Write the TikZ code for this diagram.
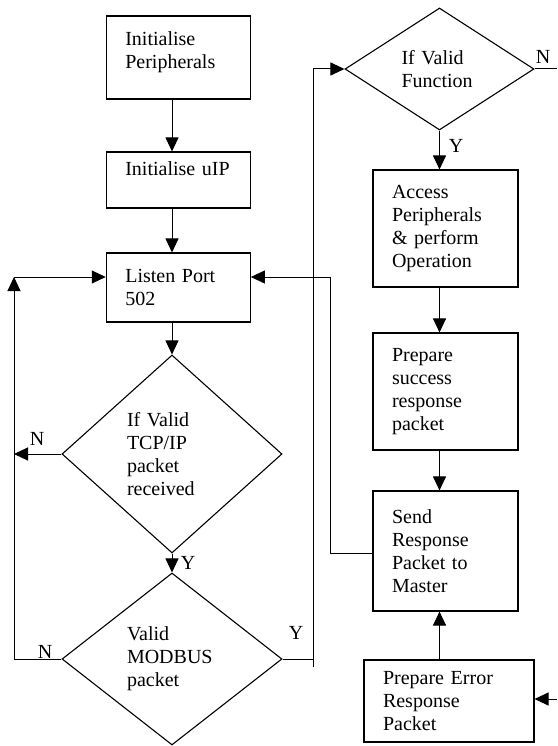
\documentclass[tikz,border=0pt]{standalone}
\usepackage{fontspec}
\setmainfont{Liberation Serif}
\usetikzlibrary{arrows.meta,shapes.geometric}
\begin{document}
\begin{tikzpicture}[x=1pt,y=-1pt,
  every node/.style={font=\fontsize{20}{23}\selectfont},
  box/.style={draw, line width=1.1pt, rectangle, align=left, inner xsep=19pt, inner ysep=0pt, text width=106pt},
  dia/.style={draw, line width=1.1pt, diamond, align=left, inner sep=0pt},
  arr/.style={line width=1pt, -{Triangle[length=14pt,width=13pt]}},
  ln/.style={line width=1pt},
  lab/.style={inner sep=0pt}]
\useasboundingbox (0,0) rectangle (557,746);
% left column
\node[box, minimum height=83pt, text depth=37pt] (p1) at (178.3,57.5) {Initialise\\Peripherals};
\node[box, minimum height=56pt, text depth=22pt] (p2) at (178.3,180) {Initialise uIP};
\node[box, minimum height=69pt] (p3) at (178.3,287.5) {Listen Port\\502};
\node[dia, text width=90pt, minimum width=220pt, minimum height=198pt] (d1) at (172,454) {If Valid\\TCP/IP\\packet\\received};
\node[dia, text width=90pt, minimum width=220pt, minimum height=172pt] (d2) at (172,659) {Valid\\MODBUS\\packet};
% right column
\node[dia, text width=76pt, minimum width=189pt, minimum height=122pt] (d3) at (439.5,69) {If Valid\\Function};
\node[box, text width=107pt, minimum height=117pt] (a1) at (445.5,228.5) {Access\\Peripherals\\\& perform\\Operation};
\node[box, text width=107pt, minimum height=117pt] (ps) at (445.5,391.5) {Prepare\\success\\response\\packet};
\node[box, text width=107pt, minimum height=120pt] (sd) at (445.5,551) {Send\\Response\\Packet to\\Master};
\node[box, text width=132pt, minimum height=82pt] (er) at (449,701) {Prepare Error\\Response\\Packet};
% coordinates
\coordinate (cL1) at (14,454);
\coordinate (cL2) at (14,659);
\coordinate (cLt) at (14,277);
\coordinate (cR1) at (313,659);
\coordinate (cR0) at (313,667);
\coordinate (cR2) at (313,69);
\coordinate (cM1) at (330,553);
\coordinate (cM2) at (330,277);
\coordinate (cE1) at (557,69);
\coordinate (cE2) at (557,699);
% connectors
\draw[arr] (p1.south -| d1.north) -- (p2.north -| d1.north);
\draw[arr] (p2.south -| d1.north) -- (p3.north -| d1.north);
\draw[arr] (p3.south -| d1.north) -- (d1.north);
\draw[arr] (d1.south) -- (d2.north);
\draw[arr] (d1.west) -- (cL1);
\draw[arr] (d2.west) -- (cL2) -- (cLt);
\draw[arr] (cLt) -- (p3.west |- cLt);
\draw[ln] (d2.east) -- (cR1);
\draw[arr] (cR0) -- (cR2) -- (d3.west);
\draw[arr] (sd.west |- cM1) -- (cM1) -- (cM2) -- (p3.east |- cM2);
\draw[ln] (d3.east) -- (cE1);
\draw[arr] (cE2) -- (er.east |- cE2);
\draw[arr] (d3.south) -- (a1.north -| d3.south);
\draw[arr] (a1.south -| d3.south) -- (ps.north -| d3.south);
\draw[arr] (ps.south -| d3.south) -- (sd.north -| d3.south);
\draw[arr] (er.north -| d3.south) -- (sd.south -| d3.south);
% labels
\node[lab] (nN1) at (37,439) {N};
\node[lab] (nY1) at (188,563) {Y};
\node[lab] (nN2) at (45,652) {N};
\node[lab] (nY2) at (296,633) {Y};
\node[lab] (nN3) at (543,57) {N};
\node[lab] (nY3) at (456,146) {Y};
\end{tikzpicture}
\end{document}
